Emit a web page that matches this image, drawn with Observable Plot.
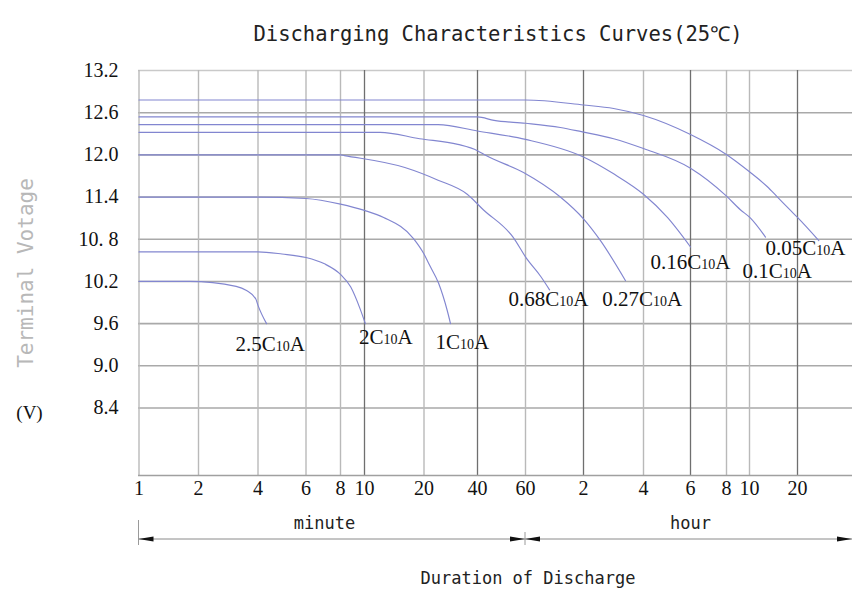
<!DOCTYPE html>
<html><head><meta charset="utf-8">
<script src="https://cdn.jsdelivr.net/npm/d3@7"></script>
<script src="https://cdn.jsdelivr.net/npm/@observablehq/plot@0.6"></script>
<style>
html,body{margin:0;padding:0;background:#fff;}
#chart svg{display:block;}
</style></head><body><div id="chart"></div>
<script>
// ---- tick values and labels ----
const xTicks = [1, 2, 4, 6, 8, 10, 20, 40, 60, 120, 240, 360, 480, 600, 1200];           // minutes
const xTickLabels = ["1","2","4","6","8","10","20","40","60","2","4","6","8","10","20"];
const xDarkTicks = [10, 40, 120, 360, 1200];
const xBreaks = [1, 2, 4, 6, 8, 10, 20, 40, 60, 120, 240, 360, 480, 600, 1200, 2400];
const yTicks = [13.2, 12.6, 12.0, 11.4, 10.8, 10.2, 9.6, 9.0, 8.4];
const yTickLabels = ["13.2","12.6","12.0","11.4","10. 8","10.2","9.6","9.0","8.4"];
const yMin = 7.44, yMax = 13.2;

// ---- discharge curves (time in minutes, terminal voltage in V) ----
const curveNames = ["0.05C10A","0.1C10A","0.16C10A","0.27C10A","0.68C10A","1C10A","2C10A","2.5C10A"];
const t005 = [1, 60, 120, 170, 240, 360, 478, 600, 774, 899, 1085, 1200, 1570];
const v005 = [12.78, 12.78, 12.71, 12.66, 12.56, 12.29, 12.01, 11.76, 11.55, 11.40, 11.21, 11.11, 10.78];
const t01 = [1, 40, 46, 60, 91, 117, 170, 240, 360, 478, 549, 609, 756];
const v01 = [12.54, 12.54, 12.49, 12.45, 12.39, 12.33, 12.23, 12.09, 11.81, 11.42, 11.22, 11.10, 10.83];
const t016 = [1, 24, 40, 60, 120, 170, 240, 295, 360];
const v016 = [12.43, 12.43, 12.34, 12.22, 11.97, 11.73, 11.44, 11.11, 10.69];
const t027 = [1, 12, 19, 31, 40, 43, 59, 91, 120, 146, 195];
const v027 = [12.32, 12.32, 12.23, 12.15, 12.06, 11.99, 11.75, 11.40, 11.09, 10.78, 10.21];
const t068 = [1, 8, 8.3, 16, 24, 35, 42, 54, 61, 72, 80];
const v068 = [12.0, 12.0, 11.99, 11.82, 11.64, 11.44, 11.22, 10.83, 10.52, 10.27, 10.08];
const t1 = [1, 4, 6, 8, 10, 12.5, 17.7, 20, 21.3, 24.2, 27, 28.2];
const v1 = [11.4, 11.4, 11.38, 11.30, 11.21, 11.11, 10.81, 10.59, 10.45, 10.17, 9.79, 9.6];
const t2 = [1, 4, 4.9, 6, 7, 8, 8.8, 9.6, 10.1];
const v2 = [10.62, 10.62, 10.59, 10.54, 10.45, 10.30, 10.12, 9.81, 9.6];
const t25 = [1, 1.8, 3.1, 3.5, 3.9, 4.0, 4.3];
const v25 = [10.2, 10.2, 10.13, 10.07, 9.95, 9.86, 9.6];
const curveTimes = [t005, t01, t016, t027, t068, t1, t2, t25];
const curveVolts = [v005, v01, v016, v027, v068, v1, v2, v25];

// ---- curve label anchors (minutes, volts) ----
const labelT = [756, 560, 255, 149, 52, 23.2, 9.5, 3.08];
const labelV = [10.67, 10.35, 10.47, 9.95, 9.95, 9.34, 9.41, 9.31];

// ---- period labels ----
const periodNames = ["minute", "hour"];
const periodT = [7, 360];

// build tables
const curveRows = curveNames.flatMap((name, k) =>
  curveTimes[k].map((t, i) => ({name, t, v: curveVolts[k][i]})));
const labelRows = curveNames.map((name, k) => ({name, t: labelT[k], v: labelV[k]}));
const periodRows = periodNames.map((name, k) => ({name, t: periodT[k]}));
const xTickRows = xTicks.map((t, i) => ({t, label: xTickLabels[i]}));
const yTickRows = yTicks.map((v, i) => ({v, label: yTickLabels[i]}));

function durationArrows(index, scales, values, dimensions) {
  const x = scales.x;
  const y0 = dimensions.height - dimensions.marginBottom + 64;
  const xs = x(1), xm = x(60), xe = dimensions.width;
  const g = d3.create("svg:g").attr("fill", "#111").attr("stroke", "none");
  g.append("line").attr("x1", xs).attr("x2", xe).attr("y1", y0).attr("y2", y0)
    .attr("stroke", "#8a8a8a").attr("stroke-width", 1);
  g.append("line").attr("x1", xs).attr("x2", xs).attr("y1", y0 - 19).attr("y2", y0 + 6)
    .attr("stroke", "#9a9a9a").attr("stroke-width", 1);
  g.append("line").attr("x1", xm).attr("x2", xm).attr("y1", y0 - 7).attr("y2", y0 + 6)
    .attr("stroke", "#9a9a9a").attr("stroke-width", 1);
  const head = (tip, dir) => `M${tip},${y0}L${tip + dir * 15},${y0 - 2.5}L${tip + dir * 15},${y0 + 2.5}Z`;
  g.append("path").attr("d", head(xs, 1));
  g.append("path").attr("d", head(xm, -1));
  g.append("path").attr("d", head(xm, 1));
  g.append("path").attr("d", head(xe, -1));
  return g.node();
}

const serif = "'Liberation Serif', 'Times New Roman', serif";
const mono = "'DejaVu Sans Mono', 'Liberation Mono', monospace";

const chart = Plot.plot({
  width: 852,
  height: 592,
  marginLeft: 138,
  marginRight: 0,
  marginTop: 70,
  marginBottom: 117,
  style: {background: "#fff", color: "#111", fontFamily: serif},
  x: {type: "log", domain: xBreaks,
      range: [138.5, 198, 257.5, 305.5, 340, 364, 423.5, 477, 525, 583, 643, 690, 726, 749, 797, 852],
      axis: null},
  y: {domain: [yMin, yMax], axis: null},
  marks: [
    Plot.gridY(yTicks.filter(d => d !== yMax), {stroke: "#a9a9a9", strokeOpacity: 1, strokeWidth: 1.6}),
    Plot.gridY([yMax], {stroke: "#c9c9c9", strokeOpacity: 1, strokeWidth: 1.5}),
    Plot.gridX(xTicks.filter(d => !xDarkTicks.includes(d)), {stroke: "#b9b9b9", strokeOpacity: 1, strokeWidth: 1.4}),
    Plot.gridX(xDarkTicks, {stroke: "#6f6f6f", strokeOpacity: 1, strokeWidth: 1.3}),
    Plot.ruleY([yMin], {stroke: "#a0a0a0", strokeWidth: 1.5}),
    Plot.line(curveRows, {x: "t", y: "v", z: "name", curve: "monotone-x",
      stroke: "#8286d0", strokeWidth: 1.15}),
    Plot.text(labelRows, {x: "t", y: "v", text: "name", textAnchor: "start",
      fontSize: 21, fontFamily: serif, fill: "#111"}),
    // x tick labels
    Plot.text(xTickRows, {x: "t", text: "label", frameAnchor: "bottom", dy: 19,
      fontSize: 20, fontFamily: serif, fill: "#111"}),
    // y tick labels
    Plot.text(yTickRows, {y: "v", text: "label", frameAnchor: "left", dx: -20, textAnchor: "end",
      fontSize: 20, fontFamily: serif, fill: "#111"}),
    Plot.text(["Discharging Characteristics Curves(25℃)"], {text: d => d, frameAnchor: "top-left",
      dx: 115, dy: -44, textAnchor: "start", fontSize: 20.5, fontFamily: mono, fill: "#222"}),
    Plot.text(["Terminal Votage"], {text: d => d, frameAnchor: "left", dx: -112, rotate: -90,
      textAnchor: "middle", fontSize: 21, fontFamily: mono, fill: "#b8b8b8"}),
    Plot.text(["(V)"], {text: d => d, frameAnchor: "left", dx: -109, dy: 139.5, textAnchor: "middle",
      fontSize: 19, fontFamily: serif, fill: "#111"}),
    Plot.text(periodRows, {x: "t", text: "name", frameAnchor: "bottom", dy: 53.5,
      fontSize: 17, fontFamily: mono, fill: "#222"}),
    Plot.text(["Duration of Discharge"], {text: d => d, frameAnchor: "bottom-left", dx: 282, dy: 108,
      textAnchor: "start", fontSize: 17, fontFamily: mono, fill: "#222"}),
    durationArrows
  ]
});

// render "10" in the C10A labels at a smaller size
d3.select(chart).selectAll("text").each(function() {
  const s = this.textContent;
  const m = s.match(/^(.*C)10(A)$/);
  if (m && this.childElementCount === 0) {
    const t = d3.select(this);
    t.text(null);
    t.append("tspan").text(m[1]);
    t.append("tspan").attr("font-size", 14).text("10");
    t.append("tspan").text(m[2]);
  }
});

document.getElementById("chart").appendChild(chart);
</script></body></html>
